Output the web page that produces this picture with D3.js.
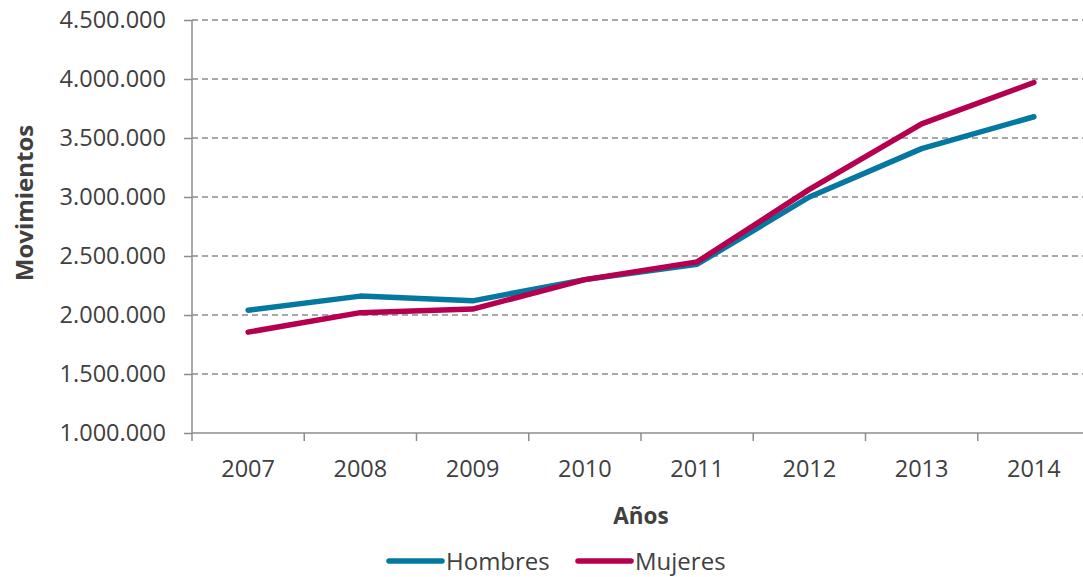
<!DOCTYPE html>
<html>
<head>
<meta charset="utf-8">
<script src="https://cdn.jsdelivr.net/npm/d3@7"></script>
<style>
  html, body { margin: 0; padding: 0; background: #fff; }
  svg { display: block; font-family: "Open Sans", sans-serif; }
</style>
</head>
<body>
<svg id="chart" width="1083" height="577"></svg>
<script>
  // data
  const years = ['2007', '2008', '2009', '2010', '2011', '2012', '2013', '2014'];
  const hombres = [2040000, 2160000, 2120000, 2300000, 2430000, 3000000, 3410000, 3680000];
  const mujeres = [1855000, 2020000, 2050000, 2300000, 2450000, 3065000, 3620000, 3970000];
  const yTicks = [1000000, 1500000, 2000000, 2500000, 3000000, 3500000, 4000000, 4500000];

  const series = [
    { name: 'Hombres', values: hombres, color: '#0478a1' },
    { name: 'Mujeres', values: mujeres, color: '#b6004f' }
  ];

  (function () {
    const svg = d3.select('#chart');
    const mLeft = 192, mRight = 1090, mTop = 20, mBottom = 433;

    const x = d3.scaleBand().domain(years).range([mLeft, mRight]);
    const y = d3.scaleLinear().domain([1000000, 4500000]).range([mBottom, mTop]);

    const fmt = v => d3.format(',')(v).replace(/,/g, '.');
    const textColor = '#404040';
    const axisColor = '#8c8c8c';

    // gridlines
    svg.append('g')
      .selectAll('line')
      .data(yTicks.slice(1))
      .join('line')
      .attr('x1', mLeft).attr('x2', 1083)
      .attr('y1', d => y(d)).attr('y2', d => y(d))
      .attr('stroke', '#8c8c8c')
      .attr('stroke-width', 1.5)
      .attr('stroke-dasharray', '6,4');

    // y axis
    const yAxis = svg.append('g')
      .attr('transform', `translate(${mLeft},0)`)
      .call(d3.axisLeft(y).tickValues(yTicks).tickFormat(fmt).tickSize(8).tickPadding(18));
    yAxis.select('.domain').attr('stroke', axisColor).attr('stroke-width', 1.5)
      .attr('d', `M0,${mTop}V${mBottom + 8}`);
    yAxis.selectAll('.tick line').attr('stroke', axisColor).attr('stroke-width', 1.5);
    yAxis.selectAll('.tick text').attr('fill', textColor).style('font-size', '23.5px')
      .style('font-family', '"Open Sans", sans-serif');

    // x axis
    const xAxis = svg.append('g')
      .attr('transform', `translate(0,${mBottom})`);
    xAxis.append('line')
      .attr('x1', mLeft).attr('x2', 1083).attr('y1', 0).attr('y2', 0)
      .attr('stroke', axisColor).attr('stroke-width', 1.5);
    xAxis.selectAll('line.tk')
      .data(years.slice(1))
      .join('line')
      .attr('class', 'tk')
      .attr('x1', d => x(d)).attr('x2', d => x(d))
      .attr('y1', 0).attr('y2', 8)
      .attr('stroke', axisColor).attr('stroke-width', 1.5);
    xAxis.selectAll('text')
      .data(years)
      .join('text')
      .attr('x', d => x(d) + x.bandwidth() / 2)
      .attr('y', 44)
      .attr('text-anchor', 'middle')
      .attr('fill', textColor)
      .style('font-size', '23.5px')
      .text(d => d);

    // axis titles
    svg.append('text')
      .attr('x', 641).attr('y', 524)
      .attr('text-anchor', 'middle')
      .attr('fill', textColor)
      .style('font-size', '22.5px').style('font-weight', 'bold')
      .text('Años');
    svg.append('text')
      .attr('transform', 'translate(33,203) rotate(-90)')
      .attr('text-anchor', 'middle')
      .attr('fill', textColor)
      .style('font-size', '24px').style('font-weight', 'bold')
      .text('Movimientos');

    // lines
    const line = d3.line()
      .x((d, i) => x(years[i]) + x.bandwidth() / 2)
      .y(d => y(d));
    svg.append('g')
      .selectAll('path')
      .data(series)
      .join('path')
      .attr('d', d => line(d.values))
      .attr('fill', 'none')
      .attr('stroke', d => d.color)
      .attr('stroke-width', 5.5)
      .attr('stroke-linecap', 'round')
      .attr('stroke-linejoin', 'round');

    // legend
    const legendX = [387, 576];
    const lg = svg.append('g')
      .selectAll('g')
      .data(series)
      .join('g')
      .attr('transform', (d, i) => `translate(${legendX[i]},561)`);
    lg.append('line')
      .attr('x1', 2).attr('x2', 55)
      .attr('stroke', d => d.color)
      .attr('stroke-width', 5.5)
      .attr('stroke-linecap', 'round');
    lg.append('text')
      .attr('x', 59).attr('y', 8.5)
      .attr('fill', textColor)
      .style('font-size', '24px')
      .text(d => d.name);
  })();
</script>
</body>
</html>
